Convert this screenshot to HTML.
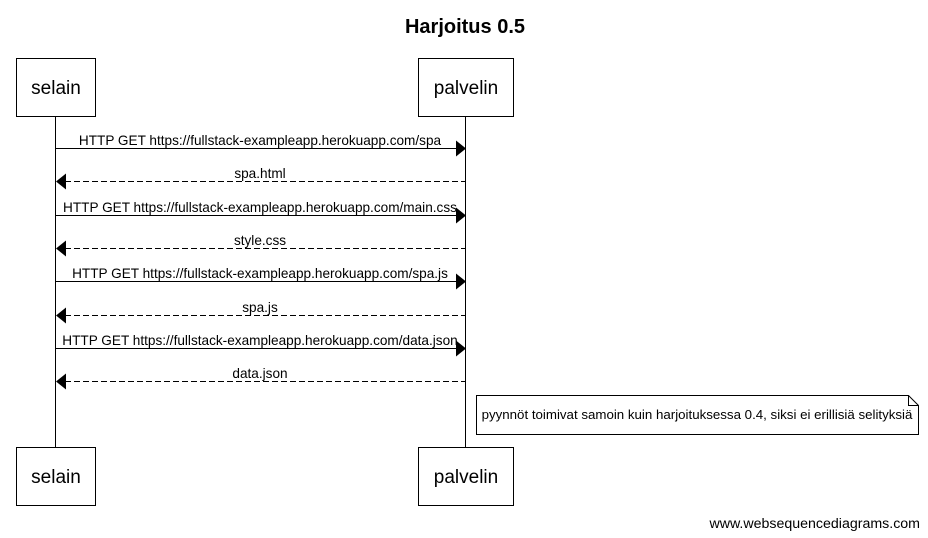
<!DOCTYPE html>
<html><head><meta charset="utf-8"><style>html,body{margin:0;padding:0;background:#fff}svg{display:block}</style></head>
<body>
<svg width="928" height="538" xmlns="http://www.w3.org/2000/svg" font-family="Liberation Sans, Arial, sans-serif">
<rect width="928" height="538" fill="#fff"/>
<text x="465" y="33" text-anchor="middle" font-size="20" font-weight="bold">Harjoitus 0.5</text>
<g stroke="#000" stroke-width="1" fill="#fff">
<line x1="55.5" y1="116" x2="55.5" y2="447"/>
<line x1="465.5" y1="116" x2="465.5" y2="447"/>
<rect x="16.5" y="58.5" width="79" height="58"/>
<rect x="418.5" y="58.5" width="95" height="58"/>
<rect x="16.5" y="447.5" width="79" height="58"/>
<rect x="418.5" y="447.5" width="95" height="58"/>
<path d="M476.5 395.5 H908.5 L918.5 405.5 V434.5 H476.5 Z"/>
<path d="M908.5 395.5 V405.5 H918.5" fill="none"/>
</g>
<g font-size="19" text-anchor="middle">
<text x="56" y="94">selain</text>
<text x="466" y="94">palvelin</text>
<text x="56" y="483">selain</text>
<text x="466" y="483">palvelin</text>
</g>
<g stroke="#000" stroke-width="1">
<line x1="55" y1="148.5" x2="456" y2="148.5"/>
<line x1="65" y1="181.5" x2="465" y2="181.5" stroke-dasharray="6,3"/>
<line x1="55" y1="215.5" x2="456" y2="215.5"/>
<line x1="65" y1="248.5" x2="465" y2="248.5" stroke-dasharray="6,3"/>
<line x1="55" y1="281.5" x2="456" y2="281.5"/>
<line x1="65" y1="315.5" x2="465" y2="315.5" stroke-dasharray="6,3"/>
<line x1="55" y1="348.5" x2="456" y2="348.5"/>
<line x1="65" y1="381.5" x2="465" y2="381.5" stroke-dasharray="6,3"/>
</g>
<g fill="#000">
<path d="M456 140.5 L466 148.5 L456 156.5Z"/>
<path d="M66 173.5 L56 181.5 L66 189.5Z"/>
<path d="M456 207.5 L466 215.5 L456 223.5Z"/>
<path d="M66 240.5 L56 248.5 L66 256.5Z"/>
<path d="M456 273.5 L466 281.5 L456 289.5Z"/>
<path d="M66 307.5 L56 315.5 L66 323.5Z"/>
<path d="M456 340.5 L466 348.5 L456 356.5Z"/>
<path d="M66 373.5 L56 381.5 L66 389.5Z"/>
</g>
<g font-size="13.6" text-anchor="middle">
<text x="260" y="145">HTTP GET https://fullstack-exampleapp.herokuapp.com/spa</text>
<text x="260" y="178">spa.html</text>
<text x="260" y="212">HTTP GET https://fullstack-exampleapp.herokuapp.com/main.css</text>
<text x="260" y="245">style.css</text>
<text x="260" y="278">HTTP GET https://fullstack-exampleapp.herokuapp.com/spa.js</text>
<text x="260" y="312">spa.js</text>
<text x="260" y="345">HTTP GET https://fullstack-exampleapp.herokuapp.com/data.json</text>
<text x="260" y="378">data.json</text>
</g>
<text x="697" y="419" font-size="13.3" text-anchor="middle">pyynnöt toimivat samoin kuin harjoituksessa 0.4, siksi ei erillisiä selityksiä</text>
<text x="920" y="528" font-size="14.2" text-anchor="end">www.websequencediagrams.com</text>
</svg>
</body></html>
